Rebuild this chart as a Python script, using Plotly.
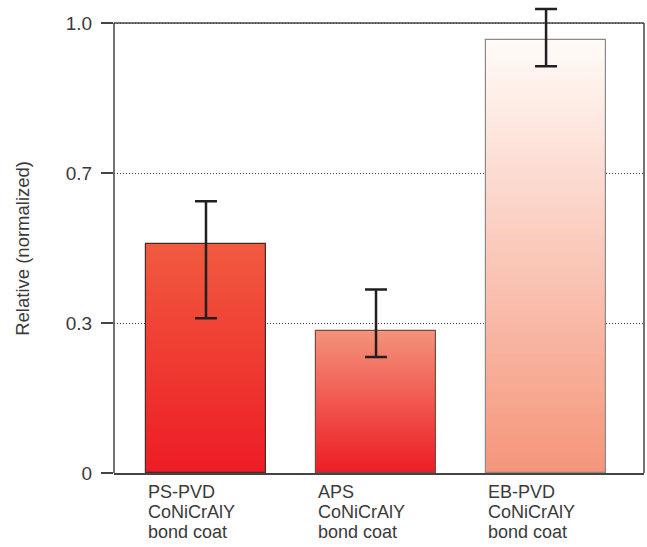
import plotly.graph_objects as go

categories = ["PS-PVD", "APS", "EB-PVD"]
label_lines = [
    ["PS-PVD", "CoNiCrAlY", "bond coat"],
    ["APS", "CoNiCrAlY", "bond coat"],
    ["EB-PVD", "CoNiCrAlY", "bond coat"],
]
values = [0.508, 0.316, 0.962]
err_high = [0.604, 0.408, 1.031]
err_low = [0.344, 0.258, 0.904]
tick_vals = [0, 1 / 3, 2 / 3, 1]
tick_text = ["0", "0.3", "0.7", "1.0"]

top_colors = ["#F15A40", "#F4937A", "#FFFBF8"]
bottom_colors = ["#ED1C24", "#ED1C24", "#F5957A"]
outline_colors = ["#4a2a28", "#7a4a40", "#8a8a8a"]

BAR_W = 0.706
N = 80
xs = list(range(len(categories)))
Y_TOP = 1.04  # headroom so the top error bar is not clipped


def hex2rgb(h):
    h = h.lstrip("#")
    return tuple(int(h[i:i + 2], 16) for i in (0, 2, 4))


def mix(c1, c2, t):
    a, b = hex2rgb(c1), hex2rgb(c2)
    return "rgb(%d,%d,%d)" % tuple(round(a[i] + (b[i] - a[i]) * t) for i in range(3))


fig = go.Figure()

# gradient fill: overlaid bars of decreasing height, tallest (top colour) first
for k in range(N):
    frac = (N - k) / N
    tcol = (N - k - 0.5) / N
    fig.add_trace(go.Bar(
        x=xs,
        y=[v * frac for v in values],
        width=BAR_W,
        marker=dict(color=[mix(bottom_colors[i], top_colors[i], tcol) for i in range(3)],
                    line=dict(width=0)),
        hoverinfo="skip",
        showlegend=False,
    ))

# outline + error bars
fig.add_trace(go.Bar(
    x=xs,
    y=values,
    width=BAR_W,
    marker=dict(color="rgba(0,0,0,0)", line=dict(color=outline_colors, width=1.2)),
    error_y=dict(
        type="data",
        symmetric=False,
        array=[h - v for h, v in zip(err_high, values)],
        arrayminus=[v - l for v, l in zip(values, err_low)],
        color="#231f20",
        thickness=2.5,
        width=11,
    ),
    cliponaxis=False,
    hoverinfo="skip",
    showlegend=False,
))

font_family = "Liberation Sans, Arial, sans-serif"
text_color = "#3a3a3a"
frame_color = "#444"

# frame: top line at 1.0 and right line from 0 to 1.0
fig.add_shape(type="line", xref="paper", yref="y", x0=0, x1=1, y0=1, y1=1,
              line=dict(color=frame_color, width=1.5), layer="below")
fig.add_shape(type="line", xref="paper", yref="y", x0=1, x1=1, y0=0, y1=1,
              line=dict(color=frame_color, width=1.5), layer="below")

# category labels (left aligned at bar's left edge)
for i, lines in enumerate(label_lines):
    for j, line in enumerate(lines):
        fig.add_annotation(
            x=i - BAR_W / 2, y=0, xref="x", yref="paper",
            text=line, showarrow=False,
            xanchor="left", yanchor="middle",
            yshift=-19 - 20 * j,
            font=dict(family=font_family, size=18, color=text_color),
        )

# y axis title
fig.add_annotation(
    x=-0.174, y=0.5, xref="paper", yref="y",
    text="Relative (normalized)", showarrow=False, textangle=-90,
    xanchor="center", yanchor="middle",
    font=dict(family=font_family, size=18.5, color=text_color),
)

fig.update_layout(
    width=647, height=547,
    margin=dict(l=114, r=3, t=5, b=74),
    barmode="overlay",
    bargap=0,
    plot_bgcolor="white",
    paper_bgcolor="white",
    showlegend=False,
    font=dict(family=font_family, color=text_color),
    xaxis=dict(
        range=[-0.541, 2.576],
        showticklabels=False,
        ticks="",
        showgrid=False,
        zeroline=False,
        showline=True, linecolor=frame_color, linewidth=1.5, mirror=False,
        fixedrange=True,
    ),
    yaxis=dict(
        range=[0, Y_TOP],
        tickvals=tick_vals,
        ticktext=tick_text,
        ticks="outside", ticklen=12, tickwidth=1.5, tickcolor=frame_color,
        tickfont=dict(family=font_family, size=19, color=text_color),
        ticklabelstandoff=5,
        showgrid=True, gridcolor="#444", gridwidth=1, griddash="1px,2px",
        zeroline=False,
        showline=False,
        fixedrange=True,
    ),
)

# left axis line only from 0 to 1.0
fig.add_shape(type="line", xref="paper", yref="y", x0=0, x1=0, y0=0, y1=1,
              line=dict(color=frame_color, width=1.5), layer="below")

fig.write_html("out.html", config={"displayModeBar": False},
               post_script="document.body.style.margin='0px';")
